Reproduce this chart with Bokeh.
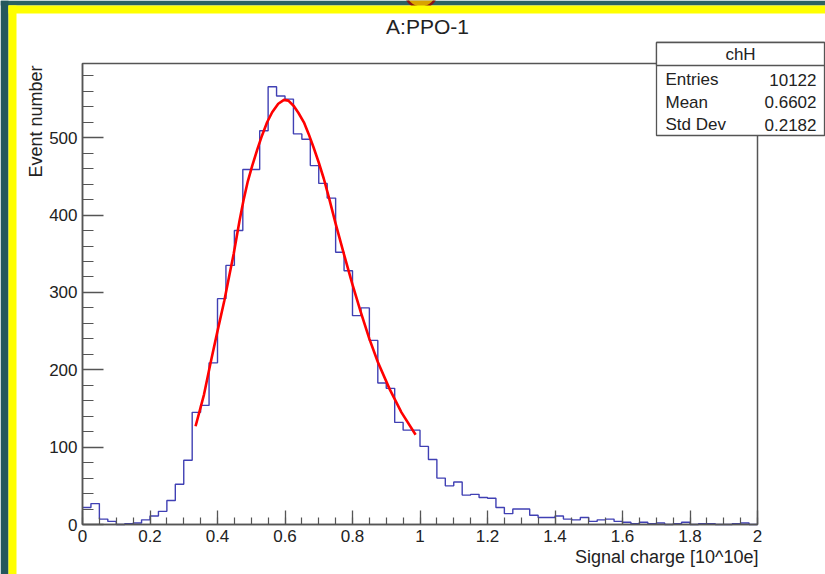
from math import pi
from bokeh.plotting import figure
from bokeh.models import BoxAnnotation, Label, FixedTicker, Range1d
from bokeh.embed import file_html
from bokeh.resources import INLINE

# ---------------- data ----------------
title_text = "A:PPO-1"
x_label = "Signal charge [10^10e]"
y_label = "Event number"

bin_low = 0.0
bin_width = 0.025
counts = [22, 27, 7, 4, 0, 1, 2, 6, 11, 17,
          31, 52, 83, 145, 154, 209, 292, 335, 380, 459,
          459, 509, 566, 554, 550, 505, 498, 464, 441, 422,
          352, 328, 270, 280, 238, 183, 176, 132, 122, 122,
          101, 84, 60, 50, 55, 38, 39, 35, 34, 22,
          14, 20, 20, 12, 9, 9, 11, 7, 6, 9,
          4, 6, 7, 4, 3, 1, 3, 1, 2, 0,
          1, 3, 0, 1, 1, 0, 0, 1, 2, 0]

fit_x = [0.335, 0.36, 0.38, 0.40, 0.42, 0.435, 0.448, 0.465, 0.478, 0.49,
         0.503, 0.518, 0.532, 0.547, 0.562, 0.58, 0.597, 0.61, 0.626, 0.64,
         0.656, 0.67, 0.685, 0.70, 0.715, 0.73, 0.75, 0.775, 0.8, 0.825,
         0.85, 0.875, 0.91, 0.945, 0.987]
fit_y = [127, 168, 210, 250, 289, 322, 350, 392, 421, 444,
         464, 485, 503, 520, 533, 544, 549, 548, 541, 532,
         520, 505, 487, 468, 447, 423, 389, 349, 310, 274,
         240, 210, 175, 145, 116]

x_ticks = [0, 0.2, 0.4, 0.6, 0.8, 1.0, 1.2, 1.4, 1.6, 1.8, 2.0]
x_tick_labels = ["0", "0.2", "0.4", "0.6", "0.8", "1", "1.2", "1.4", "1.6", "1.8", "2"]
y_ticks = [0, 100, 200, 300, 400, 500]
y_tick_labels = ["0", "100", "200", "300", "400", "500"]
x_max = 2.0
y_max = 596

stats_title = "chH"
stats_names = ["Entries", "Mean", "Std Dev"]
stats_values = ["10122", "0.6602", "0.2182"]

# ---------------- layout (pixels) ----------------
W, H = 825, 574
FL, FR, FT, FB = 82, 757, 63, 524  # ROOT frame in canvas pixels
sx = (FR - FL) / x_max
sy = (FB - FT) / y_max

FONT = "Liberation Sans"
TXT = "#222222"
AX = "#555555"

p = figure(width=W, height=H,
           x_range=Range1d(-FL / sx, x_max + (W - FR) / sx),
           y_range=Range1d(-(H - FB) / sy, y_max + FT / sy),
           output_backend="svg", toolbar_location=None, title=None,
           min_border=0, min_border_left=0, min_border_right=0,
           min_border_top=0, min_border_bottom=0)
p.background_fill_color = "white"
p.border_fill_color = "white"
p.grid.visible = False
p.outline_line_color = None


def cbox(l, r, t, b, color, line=None, lw=1.0, radius=0):
    return BoxAnnotation(left=l, right=r, top=t, bottom=b,
                         left_units="canvas", right_units="canvas",
                         top_units="canvas", bottom_units="canvas",
                         fill_color=color, fill_alpha=1.0 if color else 0.0,
                         line_color=line, line_width=lw, line_alpha=1.0,
                         border_radius=radius, level="underlay")


# screenshot surround: teal background, slide marker and yellow border
p.add_layout(cbox(0, W, 0, 5, "#2c6262"))
p.add_layout(cbox(0, 8, 0, H, "#25575c"))
p.add_layout(cbox(405, 436, -24, 7, "#d9a400", "#8b1414", 2.5, 15))
p.add_layout(cbox(8, W, 5, 13, "#ffff00"))
p.add_layout(cbox(8, 16, 5, H, "#ffff00"))

edges = [bin_low + i * bin_width for i in range(len(counts) + 1)]
step_y = counts + [counts[-1]]
p.step(edges, step_y, mode="after", line_color="#4040b4", line_width=1.4)
p.line(fit_x, fit_y, line_color="#ff0000", line_width=2.6, line_join="round")

x_minor = [round(0.05 * i, 3) for i in range(41)]
y_minor = list(range(0, 600, 20))

xa = p.xaxis[0]
xa.ticker = FixedTicker(ticks=x_ticks, minor_ticks=x_minor)
xa.major_label_overrides = {t: l for t, l in zip(x_ticks, x_tick_labels)}
xa.fixed_location = 0
xa.bounds = (0, x_max)
ya = p.yaxis[0]
ya.ticker = FixedTicker(ticks=y_ticks, minor_ticks=y_minor)
ya.major_label_overrides = {t: l for t, l in zip(y_ticks, y_tick_labels)}
ya.fixed_location = 0
ya.bounds = (0, y_max)

for ax, mj, mn in ((xa, 14, 7), (ya, 21, 11)):
    ax.major_tick_in = mj
    ax.major_tick_out = 0
    ax.minor_tick_in = mn
    ax.minor_tick_out = 0
    ax.axis_line_color = AX
    ax.axis_line_width = 1.5
    ax.major_tick_line_color = AX
    ax.minor_tick_line_color = AX
    ax.major_tick_line_width = 1.3
    ax.minor_tick_line_width = 1.2
    ax.major_label_text_font = FONT
    ax.major_label_text_font_size = "17px"
    ax.major_label_text_color = TXT
    ax.major_label_standoff = 5

# frame box (data units: the histogram's full range)
p.add_layout(BoxAnnotation(left=0, right=x_max, bottom=0, top=y_max,
                           fill_alpha=0.0, line_color=AX, line_width=1.5, line_alpha=1.0))


def sbox(l, r, t, b):
    return BoxAnnotation(left=l, right=r, top=t, bottom=b,
                         left_units="canvas", right_units="canvas",
                         top_units="canvas", bottom_units="canvas",
                         fill_color="white", fill_alpha=1.0,
                         line_color=AX, line_width=1.3, line_alpha=1.0)


# stats box
p.add_layout(sbox(656, 824, 42, 135))
p.add_layout(sbox(656, 824, 42, 65))


def clabel(x, y, text, size="17px", align="left", angle=0.0):
    return Label(x=x, y=y, x_units="canvas", y_units="canvas", text=text,
                 text_font=FONT, text_font_size=size, text_color=TXT,
                 text_align=align, text_baseline="middle", angle=angle)


p.add_layout(clabel(427, 26, title_text, "21px", "center"))
p.add_layout(clabel(35, 121, y_label, "18px", "center", pi / 2))
p.add_layout(clabel(758, 556, x_label, "18px", "right"))

p.add_layout(clabel(740, 54, stats_title, "17px", "center"))
for i, (nm, vl) in enumerate(zip(stats_names, stats_values)):
    yy = 79 + 22.7 * i
    p.add_layout(clabel(665, yy, nm, "17px", "left"))
    p.add_layout(clabel(816, yy, vl, "17px", "right"))

open("out.html", "w").write(file_html(p, INLINE))
